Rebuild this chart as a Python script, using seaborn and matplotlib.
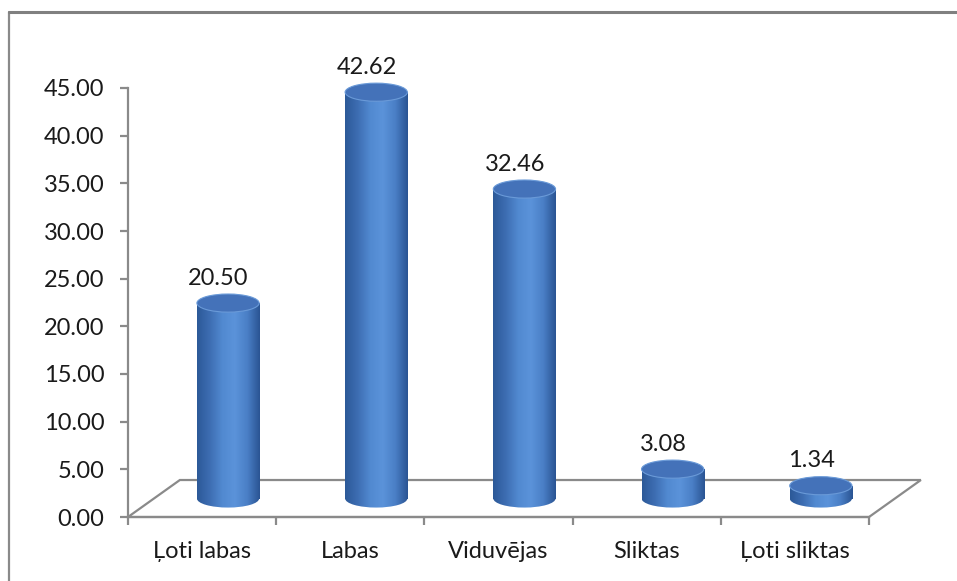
import numpy as np
import matplotlib
matplotlib.use("Agg")
import matplotlib.pyplot as plt
import seaborn as sns
from matplotlib.patches import Ellipse, Polygon
from matplotlib.colors import LinearSegmentedColormap
from matplotlib.lines import Line2D

# %%
categories = ["Ļoti labas", "Labas", "Viduvējas", "Sliktas", "Ļoti sliktas"]
values = [20.50, 42.62, 32.46, 3.08, 1.34]
value_labels = ["20.50", "42.62", "32.46", "3.08", "1.34"]
y_ticks = [0, 5, 10, 15, 20, 25, 30, 35, 40, 45]

# %%
sns.set_theme(style="white")
plt.rcParams['font.family'] = ['Lato', 'DejaVu Sans']

fig = plt.figure(figsize=(9.57, 5.81), dpi=100)
ax = fig.add_axes([128/957, 64/581, 741/957, 429/581])

bar_w = 0.42
dx, dy = 0.35, 3.88          # depth of the 3d floor in data units
eh = 1.9                     # ellipse height in data units
text_c = '#1a1a1a'
grey = '#8a8a8a'

sns.barplot(x=categories, y=values, width=bar_w, color='#4f81bd', saturation=1, ax=ax)

body_cmap = LinearSegmentedColormap.from_list(
    'cyl', ['#2c5998', '#3d6db2', '#5189d0', '#5b93da', '#4a7fc6', '#2a5493'])
grad = np.linspace(0, 1, 256)[None, :]

for i, p in enumerate(ax.patches):
    x0 = p.get_x() + dx / 2
    p.set_x(x0)
    p.set_y(dy / 2)
    p.set_facecolor('none')
    p.set_edgecolor('none')
    base = dy / 2
    top = base + values[i]
    # cylinder body
    im = ax.imshow(grad, extent=[x0, x0 + bar_w, base, top], aspect='auto',
                   cmap=body_cmap, zorder=2, interpolation='bilinear')
    im.set_clip_path(p)
    # bottom half ellipse
    bot = Ellipse((x0 + bar_w / 2, base), bar_w, eh, facecolor='none', edgecolor='none')
    ax.add_patch(bot)
    im2 = ax.imshow(grad, extent=[x0, x0 + bar_w, base - eh / 2, base + eh / 2], aspect='auto',
                    cmap=body_cmap, zorder=2, interpolation='bilinear')
    im2.set_clip_path(bot)
    # top cap
    ax.add_patch(Ellipse((x0 + bar_w / 2, top), bar_w, eh, facecolor='#4472b9',
                         edgecolor='#6a9ad8', lw=0.8, zorder=3, clip_on=False))
    ax.annotate(value_labels[i], (i + 0.11, top), xytext=(0, 18), textcoords='offset points',
                ha='center', va='center', fontsize=17, color=text_c, annotation_clip=False)

# 3d floor
floor = Polygon([(-0.5, 0), (-0.5 + dx, dy), (4.5 + dx, dy), (4.5, 0)], closed=True,
                facecolor='none', edgecolor=grey, lw=1.6, clip_on=False, zorder=1)
ax.add_patch(floor)

ax.set_xlim(-0.5, 4.5)
ax.set_ylim(0, 45)
ax.set_yticks(y_ticks)
ax.set_yticklabels([f"{v:.2f}" for v in y_ticks], fontsize=17, color=text_c)
ax.set_xticks(np.arange(-0.5, 5, 1))
ax.set_xticklabels([])
ax.set_xticks(range(5), minor=True)
ax.set_xticklabels(categories, minor=True, fontsize=17, color=text_c)
ax.tick_params(axis='y', which='major', left=True, length=6, width=1.6, color=grey, pad=11)
ax.tick_params(axis='x', which='major', bottom=True, length=6, width=1.6, color=grey)
ax.tick_params(axis='x', which='minor', bottom=True, length=0, pad=17)
ax.set_xlabel('')
ax.set_ylabel('')
for s in ['top', 'right']:
    ax.spines[s].set_visible(False)
for s in ['left', 'bottom']:
    ax.spines[s].set_color(grey)
    ax.spines[s].set_linewidth(1.6)
ax.patch.set_alpha(0)

# chart border
fig.add_artist(Line2D([9/957, 9/957], [0, 1 - 12/581], transform=fig.transFigure, color=grey, lw=1.6))
fig.add_artist(Line2D([9/957, 1], [1 - 12/581, 1 - 12/581], transform=fig.transFigure, color='#808080', lw=2.2))

fig.savefig('out.png', dpi=100)
